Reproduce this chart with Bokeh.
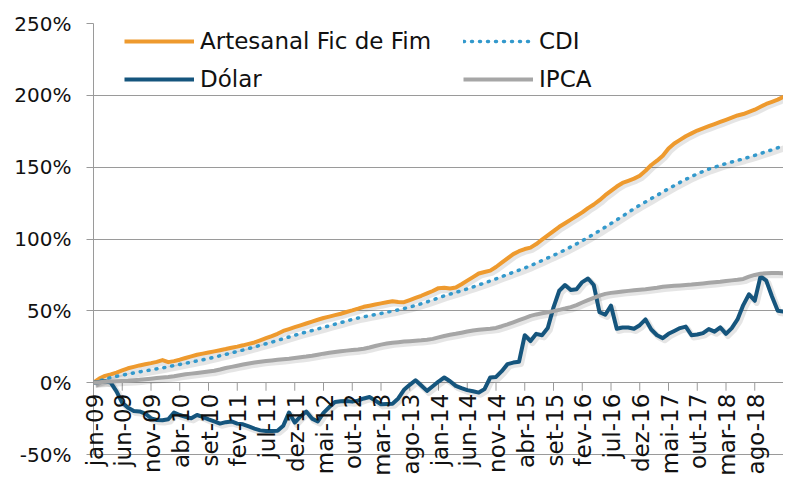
import math
from bokeh.plotting import figure
from bokeh.models import (Range1d, ColumnDataSource, Legend, LegendItem,
                          PrintfTickFormatter, FixedTicker)
from bokeh.core.properties import value
from bokeh.embed import file_html
from bokeh.resources import INLINE

# ---- data (monthly, jan-09 .. jan-19), cumulative % ----
months = list(range(121))

artesanal = [
    0, 2.8, 4.7, 5.8, 7.0, 8.5, 10.0, 11.0, 12.0, 12.8,
    13.6, 14.5, 15.7, 14.3, 15.0, 16.0, 17.2, 18.3, 19.4, 20.2,
    21.0, 21.8, 22.6, 23.4, 24.3, 25.1, 26.0, 27.0, 28.0, 29.5,
    31.0, 32.4, 34.0, 36.0, 37.3, 38.6, 39.9, 41.2, 42.5, 43.8,
    45.0, 46.0, 47.0, 48.0, 49.2, 50.3, 51.5, 52.8, 53.6, 54.4,
    55.2, 56.0, 56.7, 56.2, 56.0, 57.5, 59.0, 60.5, 62.2, 63.8,
    65.8, 66.0, 65.5, 66.2, 68.5, 71.0, 73.5, 76.0, 77.0, 78.0,
    80.5, 83.5, 86.5, 89.5, 91.5, 93.0, 94.0, 96.5, 99.5, 102.5,
    105.5, 108.5, 111.0, 113.5, 116.0, 118.5, 121.5, 124.0, 127.0, 130.5,
    133.5, 136.5, 139.0, 140.5, 142.0, 144.0, 147.5, 151.5, 154.5, 158.0,
    163.0, 166.5, 169.0, 171.5, 173.5, 175.5, 177.0, 178.5, 180.0, 181.5,
    183.0, 184.5, 186.0, 187.0, 188.5, 190.0, 192.0, 194.0, 195.5, 197.0,
    199.0]

cdi = [
    0, 1.2, 2.4, 3.5, 4.4, 5.2, 6.0, 6.8, 7.5, 8.2,
    8.9, 9.6, 10.3, 11.1, 11.9, 12.7, 13.5, 14.3, 15.1, 15.9,
    16.8, 17.7, 18.7, 19.7, 20.7, 21.7, 22.7, 23.8, 24.9, 26.0,
    27.1, 28.2, 29.4, 30.6, 31.8, 33.0, 34.2, 35.3, 36.3, 37.4,
    38.5, 39.6, 40.7, 41.8, 42.9, 44.0, 45.0, 45.8, 46.6, 47.4,
    48.2, 49.0, 49.8, 50.7, 51.6, 52.6, 53.7, 54.9, 56.2, 57.6,
    59.0, 60.4, 61.6, 62.8, 64.0, 65.3, 66.6, 68.0, 69.4, 70.8,
    72.3, 73.8, 75.3, 76.8, 78.3, 79.8, 81.4, 83.2, 85.0, 86.8,
    88.6, 90.5, 92.4, 94.5, 96.6, 98.8, 101.0, 103.4, 105.8, 108.3,
    110.8, 113.3, 115.9, 118.5, 121.1, 123.5, 125.8, 128.1, 130.4, 132.7,
    135.0, 137.2, 139.4, 141.5, 143.5, 145.3, 147.0, 148.6, 150.0, 151.3,
    152.5, 153.6, 154.7, 155.8, 157.0, 158.2, 159.5, 160.8, 162.1, 163.5,
    165.0]

dolar = [
    0, 0.5, 1.0, 0.0, -6.0, -14.0, -17.5, -19.7, -20.0, -21.5,
    -24.8, -26.0, -26.2, -25.5, -20.8, -22.5, -23.8, -24.8, -22.5, -23.8,
    -25.5, -27.0, -28.5, -27.5, -27.0, -28.5, -29.0, -30.5, -32.0, -33.2,
    -33.6, -33.6, -33.4, -30.0, -20.8, -27.8, -23.5, -20.1, -25.0, -27.0,
    -21.0, -17.0, -13.5, -13.0, -12.7, -13.2, -12.5, -11.0, -10.0, -12.5,
    -15.0, -14.8, -14.6, -11.0, -5.0, -1.5, 1.7, -2.0, -5.7, -2.5,
    0.8, 3.6, 1.0, -2.2, -3.8, -5.2, -6.0, -6.9, -4.5, 3.6,
    4.0, 8.0, 12.9, 14.0, 14.5, 33.0, 29.0, 34.0, 33.0, 38.0,
    52.4, 64.0, 68.0, 64.5, 65.0, 70.0, 72.5, 68.0, 49.0, 47.3,
    53.6, 37.5, 38.4, 38.4, 37.5, 40.0, 44.0, 37.0, 33.0, 31.0,
    34.0, 36.0, 38.0, 39.0, 33.0, 33.5, 34.5, 37.3, 35.5, 38.5,
    34.0, 38.0, 44.0, 54.0, 61.5, 57.0, 74.0, 71.0, 60.0, 50.0,
    49.5]

ipca = [
    0, 0.3, 0.6, 0.8, 1.0, 1.2, 1.4, 1.7, 2.0, 2.4,
    2.8, 3.2, 3.6, 4.0, 4.5, 5.2, 5.8, 6.3, 6.8, 7.3,
    7.8, 8.3, 9.2, 10.2, 11.0, 11.8, 12.6, 13.4, 14.0, 14.6,
    15.1, 15.5, 15.9, 16.3, 16.7, 17.2, 17.7, 18.2, 18.8, 19.5,
    20.2, 20.8, 21.3, 21.8, 22.3, 22.7, 23.1, 23.6, 24.5, 25.5,
    26.5, 27.2, 27.8, 28.2, 28.6, 28.9, 29.2, 29.5, 29.9, 30.5,
    31.5, 32.5, 33.3, 34.0, 34.8, 35.6, 36.3, 36.8, 37.2, 37.6,
    38.1, 39.3, 40.6, 42.0, 43.5, 45.0, 46.5, 47.5, 48.3, 49.0,
    49.8, 50.7, 51.6, 52.6, 54.0, 55.8, 57.4, 59.0, 60.6, 61.8,
    62.5, 63.0, 63.5, 63.9, 64.3, 64.7, 65.1, 65.6, 66.1, 66.7,
    67.1, 67.4, 67.7, 68.0, 68.3, 68.7, 69.1, 69.5, 69.9, 70.3,
    70.8, 71.2, 71.6, 72.2, 73.8, 75.0, 75.8, 76.2, 76.4, 76.3,
    76.2]

tick_labels = ["jan-09", "jun-09", "nov-09", "abr-10", "set-10", "fev-11", "jul-11",
               "dez-11", "mai-12", "out-12", "mar-13", "ago-13", "jan-14", "jun-14",
               "nov-14", "abr-15", "set-15", "fev-16", "jul-16", "dez-16", "mai-17",
               "out-17", "mar-18", "ago-18"]
tick_step = 5
y_ticks = [-50, 0, 50, 100, 150, 200, 250]

# ---- styling ----
FONT = "DejaVu Sans"
GRID = "#9a9a9a"
C_ART = "#EE9A2E"
C_CDI = "#3399CC"
C_DOL = "#15557D"
C_IPCA = "#A6A6A6"

p = figure(width=783, height=478, x_range=Range1d(0, 120), y_range=Range1d(-66.7, 250),
           output_backend="svg", toolbar_location=None, x_axis_location=None,
           min_border_left=93, min_border_right=0, min_border_top=23, min_border_bottom=0)
p.outline_line_color = None
p.background_fill_color = "white"
p.border_fill_color = "white"

p.xgrid.visible = False
p.ygrid.ticker = FixedTicker(ticks=y_ticks)
p.ygrid.grid_line_color = GRID
p.ygrid.grid_line_width = 1

ax = p.yaxis[0]
ax.ticker = FixedTicker(ticks=y_ticks)
ax.bounds = (-50, 250)
ax.formatter = PrintfTickFormatter(format="%d%%")
ax.axis_line_color = GRID
ax.major_tick_line_color = GRID
ax.major_tick_out = 7
ax.major_tick_in = 0
ax.minor_tick_line_color = None
ax.major_label_standoff = 15
ax.major_label_text_font = FONT
ax.major_label_text_font_size = "20px"
ax.major_label_text_color = "#111111"

# category axis at 0%: tick marks and rotated labels
tick_pos = list(range(0, len(months), tick_step))
p.segment(x0=tick_pos, y0=[0] * len(tick_pos), x1=tick_pos, y1=[-5.6] * len(tick_pos),
          line_color=GRID, line_width=1)
lab_src = ColumnDataSource(dict(x=tick_pos[:len(tick_labels)], y=[0] * len(tick_labels),
                                t=tick_labels))
p.text(x="x", y="y", text="t", source=lab_src, angle=math.pi / 2, y_offset=11,
       x_offset=1, text_align="right", text_baseline="middle", text_font=value(FONT),
       text_font_size="23px", text_color="#111111", level="overlay")

# shadows
for ys in (artesanal, cdi, dolar, ipca):
    p.line([m + 0.35 for m in months], [v - 1.5 for v in ys], line_color="black",
           line_alpha=0.10, line_width=6, line_join="round")

r_art = p.line(months, artesanal, line_color=C_ART, line_width=4, line_join="round")
r_cdi = p.line(months, cdi, line_color=C_CDI, line_width=3.5, line_dash="1 7",
               line_cap="round")
r_dol = p.line(months, dolar, line_color=C_DOL, line_width=4, line_join="round")
r_ipca = p.line(months, ipca, line_color=C_IPCA, line_width=4, line_join="round")

def make_legend(items, vx):
    lg = Legend(items=items, location=(vx, 384), orientation="vertical",
                glyph_width=70, glyph_height=30, label_height=30, label_standoff=6,
                spacing=8, padding=0, margin=0, border_line_color=None,
                background_fill_alpha=0, label_text_font=FONT,
                label_text_font_size="23px", label_text_color="#111111")
    p.add_layout(lg)

make_legend([LegendItem(label="Artesanal Fic de Fim", renderers=[r_art]),
             LegendItem(label="Dólar", renderers=[r_dol])], 31)
make_legend([LegendItem(label="CDI", renderers=[r_cdi]),
             LegendItem(label="IPCA", renderers=[r_ipca])], 370)

open("out.html", "w").write(file_html(p, INLINE))
